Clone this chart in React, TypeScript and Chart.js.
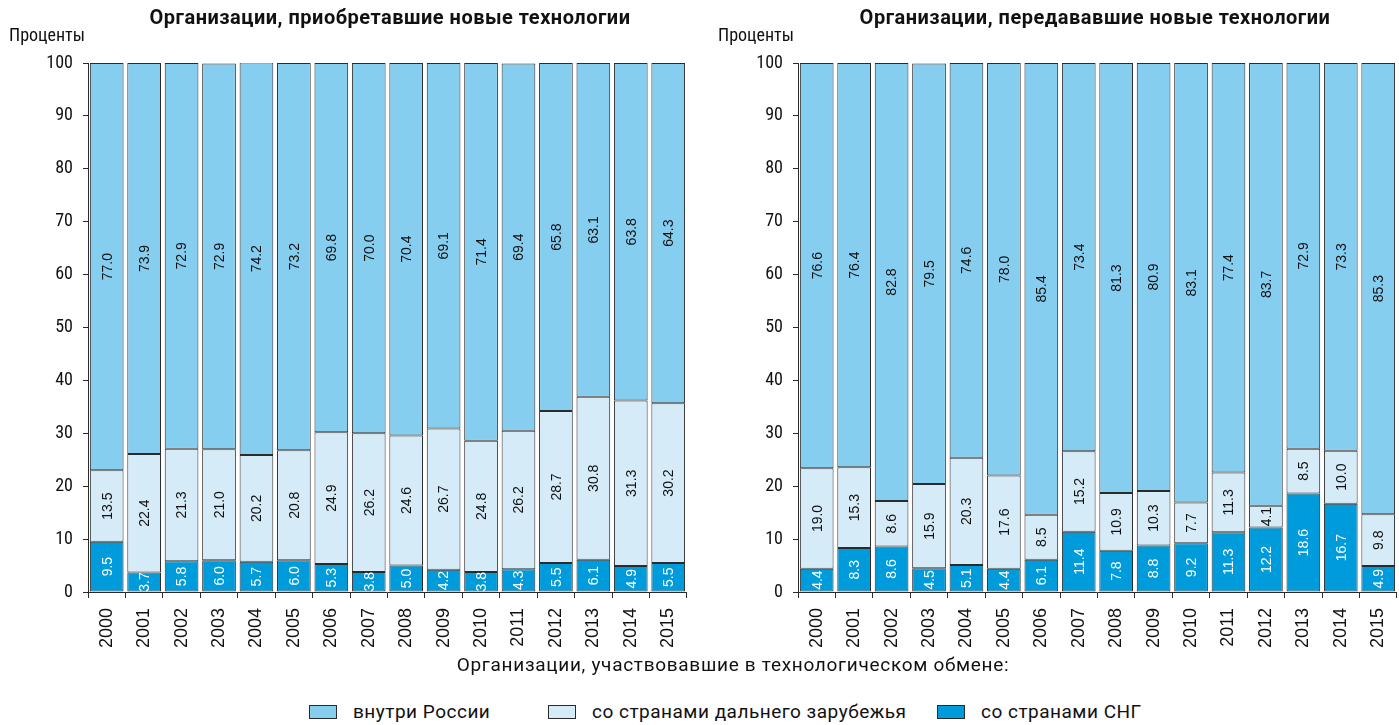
import React, { useEffect, useRef } from "react";
import { Chart, registerables } from "chart.js";

Chart.register(...registerables);

const years = ["2000","2001","2002","2003","2004","2005","2006","2007","2008","2009","2010","2011","2012","2013","2014","2015"];
const yTicks = [0, 10, 20, 30, 40, 50, 60, 70, 80, 90, 100];

const acqRussia = [77.0,73.9,72.9,72.9,74.2,73.2,69.8,70.0,70.4,69.1,71.4,69.4,65.8,63.1,63.8,64.3];
const acqFar = [13.5,22.4,21.3,21.0,20.2,20.8,24.9,26.2,24.6,26.7,24.8,26.2,28.7,30.8,31.3,30.2];
const acqCis = [9.5,3.7,5.8,6.0,5.7,6.0,5.3,3.8,5.0,4.2,3.8,4.3,5.5,6.1,4.9,5.5];

const trRussia = [76.6,76.4,82.8,79.5,74.6,78.0,85.4,73.4,81.3,80.9,83.1,77.4,83.7,72.9,73.3,85.3];
const trFar = [19.0,15.3,8.6,15.9,20.3,17.6,8.5,15.2,10.9,10.3,7.7,11.3,4.1,8.5,10.0,9.8];
const trCis = [4.4,8.3,8.6,4.5,5.1,4.4,6.1,11.4,7.8,8.8,9.2,11.3,12.2,18.6,16.7,4.9];

const seriesNames = ["внутри России", "со странами дальнего зарубежья", "со странами СНГ"];
const colRussia = "#86cef0";
const colFar = "#d5ebf8";
const colCis = "#009bdb";
const borderCol = "#2b2b2b";

const CONDENSED = '"Roboto Condensed", Roboto, sans-serif';
const ROBOTO = 'Roboto, sans-serif';
const ARIAL = '"Liberation Sans", Arial, sans-serif';

const labelPlugin = {
  id: "segLabels",
  afterDatasetsDraw(chart: any) {
    const ctx = chart.ctx;
    const area = chart.chartArea;
    ctx.save();
    ctx.beginPath();
    ctx.rect(area.left, area.top, area.right - area.left, area.bottom - area.top);
    ctx.clip();
    ctx.font = "14px " + ARIAL;
    ctx.textAlign = "center";
    ctx.textBaseline = "middle";
    chart.data.datasets.forEach((ds: any, di: number) => {
      const meta = chart.getDatasetMeta(di);
      meta.data.forEach((el: any, i: number) => {
        const v = ds.data[i];
        const cy = (el.y + el.base) / 2;
        ctx.save();
        ctx.translate(el.x, cy);
        ctx.rotate(-Math.PI / 2);
        ctx.fillStyle = ds.labelColor;
        ctx.fillText(v.toFixed(1), 0, 1);
        ctx.restore();
      });
    });
    ctx.restore();
  },
};

function Panel(props: { russia: number[]; far: number[]; cis: number[] }) {
  const ref = useRef<HTMLCanvasElement | null>(null);
  useEffect(() => {
    if (!ref.current) return;
    const mk = (label: string, data: number[], color: string, lc: string) => ({
      label,
      data,
      backgroundColor: color,
      borderColor: borderCol,
      borderWidth: 1,
      borderSkipped: false,
      barPercentage: 0.9,
      categoryPercentage: 1.0,
      labelColor: lc,
    });
    const chart = new Chart(ref.current, {
      type: "bar",
      data: {
        labels: years,
        datasets: [
          mk(seriesNames[2], props.cis, colCis, "#ffffff"),
          mk(seriesNames[1], props.far, colFar, "#111111"),
          mk(seriesNames[0], props.russia, colRussia, "#111111"),
        ] as any,
      },
      options: {
        animation: false,
        responsive: false,
        maintainAspectRatio: false,
        layout: { padding: { top: 63, right: 6, bottom: 8, left: 0 } },
        plugins: { legend: { display: false }, tooltip: { enabled: false }, title: { display: false } },
        scales: {
          x: {
            stacked: true,
            afterFit: (s: any) => { s.height = 60; },
            grid: { display: true, drawOnChartArea: false, drawTicks: true, tickLength: 6, color: borderCol, offset: true },
            border: { display: true, color: borderCol, width: 1 },
            ticks: { color: "#111", font: { family: ARIAL, size: 18 }, minRotation: 90, maxRotation: 90, padding: 10, autoSkip: false },
          },
          y: {
            stacked: true,
            min: 0,
            max: 100,
            afterFit: (s: any) => { s.width = 88; },
            afterBuildTicks: (s: any) => { s.ticks = yTicks.map((v) => ({ value: v })); },
            grid: { display: true, drawOnChartArea: false, drawTicks: true, tickLength: 5, color: borderCol },
            border: { display: true, color: borderCol, width: 1 },
            ticks: { color: "#111", font: { family: CONDENSED, size: 18 }, padding: 10 },
          },
        },
      },
      plugins: [labelPlugin],
    } as any);
    return () => chart.destroy();
  }, []);
  return <canvas ref={ref} width={700} height={660} style={{ width: 700, height: 660, display: "block" }} />;
}

export default function App() {
  const textBase: React.CSSProperties = { position: "absolute", whiteSpace: "nowrap", color: "#111", fontFamily: ROBOTO };
  const legendItems = [
    { name: seriesNames[0], color: colRussia, x: 309 },
    { name: seriesNames[1], color: colFar, x: 548 },
    { name: seriesNames[2], color: colCis, x: 937 },
  ];
  return (
    <div style={{ position: "fixed", left: 0, top: 0, width: 1399, height: 725, overflow: "hidden", background: "#fff" }}>
      <div style={{ position: "absolute", left: 0, top: 0 }}>
        <Panel russia={acqRussia} far={acqFar} cis={acqCis} />
      </div>
      <div style={{ position: "absolute", left: 710, top: 0 }}>
        <Panel russia={trRussia} far={trFar} cis={trCis} />
      </div>
      <div style={{ ...textBase, left: 390, top: 5, transform: "translateX(-50%)", fontWeight: "bold", fontSize: 20, letterSpacing: 0.5 }}>
        Организации, приобретавшие новые технологии
      </div>
      <div style={{ ...textBase, left: 1095, top: 5, transform: "translateX(-50%)", fontWeight: "bold", fontSize: 20, letterSpacing: 0.5 }}>
        Организации, передававшие новые технологии
      </div>
      <div style={{ ...textBase, left: 9, top: 24, fontSize: 18, fontFamily: CONDENSED, fontStretch: "75%" }}>Проценты</div>
      <div style={{ ...textBase, left: 718, top: 24, fontSize: 18, fontFamily: CONDENSED, fontStretch: "75%" }}>Проценты</div>
      <div style={{ ...textBase, left: 733, top: 653, transform: "translateX(-50%)", fontSize: 19, letterSpacing: 0.7 }}>
        Организации, участвовавшие в технологическом обмене:
      </div>
      {legendItems.map((it) => (
        <div key={it.name} style={{ ...textBase, left: it.x, top: 700, display: "flex", alignItems: "center", fontSize: 19, letterSpacing: 0.5 }}>
          <span style={{ display: "inline-block", width: 26, height: 12, background: it.color, border: "1px solid #2b2b2b", marginRight: 16 }} />
          <span>{it.name}</span>
        </div>
      ))}
    </div>
  );
}
